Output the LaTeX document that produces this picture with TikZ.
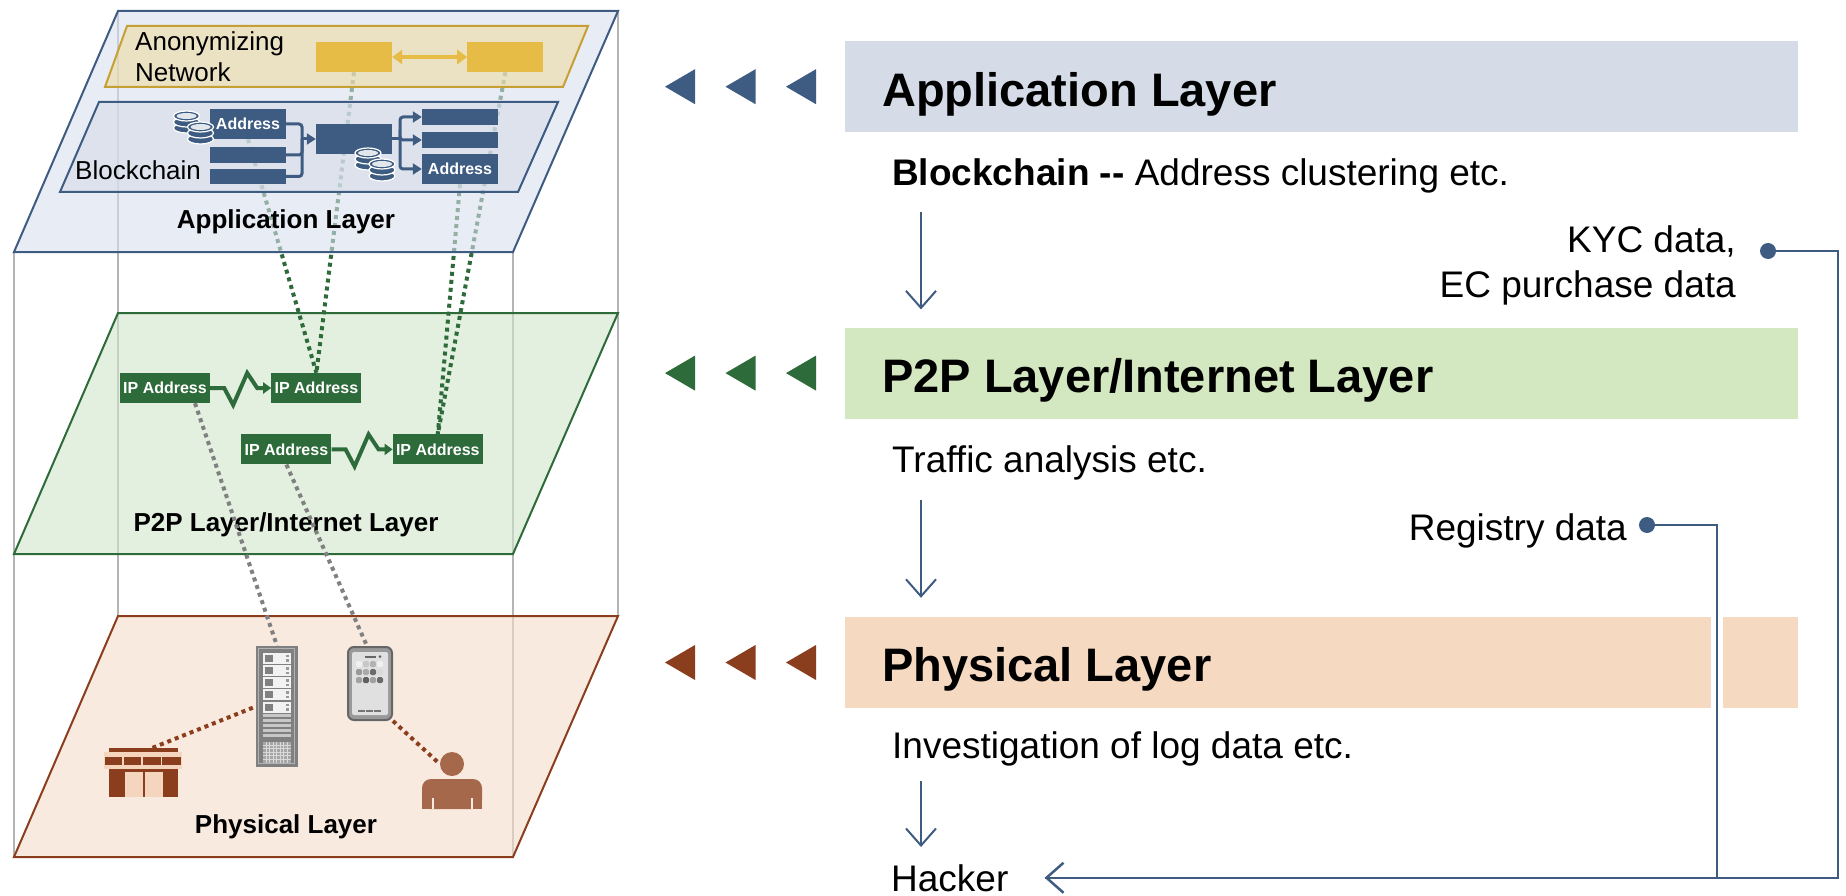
\documentclass[tikz,border=0pt]{standalone}
\usepackage{fontspec}
\setmainfont{Liberation Sans}
\usetikzlibrary{arrows.meta, positioning}

\definecolor{appline}{RGB}{62,92,130}
\definecolor{appfill}{RGB}{217,223,237}
\definecolor{appshade}{RGB}{213,220,232}
\definecolor{chainfill}{RGB}{214,221,232}
\definecolor{anonline}{RGB}{198,160,52}
\definecolor{anonfill}{RGB}{237,219,164}
\definecolor{anonyellow}{RGB}{230,188,70}
\definecolor{p2pline}{RGB}{46,107,58}
\definecolor{p2pfill}{RGB}{208,228,202}
\definecolor{p2pshade}{RGB}{211,232,192}
\definecolor{phyline}{RGB}{139,62,30}
\definecolor{phyfill}{RGB}{245,220,202}
\definecolor{physhade}{RGB}{245,217,193}
\definecolor{shoplight}{RGB}{245,213,190}
\definecolor{person}{RGB}{165,104,74}
\definecolor{edgegray}{RGB}{180,180,180}

\pgfdeclarelayer{back}
\pgfdeclarelayer{links}
\pgfsetlayers{back,links,main}

\begin{document}
\begin{tikzpicture}[x=1pt, y=-1pt,
        plane/.style      = {line width=2pt, fill opacity=0.6},
        boxedge/.style    = {edgegray, line width=1.5pt},
        planetitle/.style = {font=\bfseries\fontsize{26}{31}\selectfont, inner sep=0pt},
        plain/.style      = {font=\fontsize{26}{31}\selectfont, inner sep=0pt, align=left},
        addr/.style       = {fill=appline, text=white, font=\bfseries\fontsize{16}{18}\selectfont, minimum width=76pt, inner sep=0pt},
        ipbox/.style      = {fill=p2pline, text=white, font=\bfseries\fontsize{16}{18}\selectfont, minimum width=90pt, minimum height=30pt, inner sep=0pt},
        hopbox/.style     = {fill=anonyellow, minimum width=76pt, minimum height=30pt, inner sep=0pt},
        chainline/.style  = {appline, line width=3pt, rounded corners=3pt},
        zig/.style        = {p2pline, line width=4pt, -{Triangle[length=8pt,width=11pt]}},
        dotline/.style    = {line width=4pt, dash pattern=on 4pt off 4pt},
        band/.style       = {anchor=north west, minimum width=953pt, minimum height=91pt, inner sep=0pt},
        bandtext/.style   = {anchor=base west, font=\bfseries\fontsize{47}{56}\selectfont, inner sep=0pt},
        txt/.style        = {anchor=base west, font=\fontsize{37}{45}\selectfont, inner sep=0pt},
        flow/.style       = {appline, line width=2pt, -{Straight Barb[length=17pt,width=30pt]}},
        feed/.style       = {appline, line width=2.5pt},
        feeddot/.style    = {circle, fill=appline, minimum size=16pt, inner sep=0pt}]

    \useasboundingbox (0,0) rectangle (1846,896);

    % corners of the three stacked layers
    \foreach \lay/\h in {app/11, p2p/313, phy/616} {
        \coordinate (\lay-nw) at (118,\h);
        \coordinate (\lay-ne) at (618,\h);
        \coordinate (\lay-se) at (513,\h+241);
        \coordinate (\lay-sw) at (14,\h+241);
    }

    \begin{pgfonlayer}{back}
        % edges of the box holding the layers
        \foreach \c in {nw,ne,se,sw}
            \draw[boxedge] (app-\c) -- (phy-\c);
        \draw[plane, draw=phyline, fill=phyfill] (phy-nw) -- (phy-ne) -- (phy-se) -- (phy-sw) -- cycle;
        \draw[plane, draw=p2pline, fill=p2pfill] (p2p-nw) -- (p2p-ne) -- (p2p-se) -- (p2p-sw) -- cycle;
    \end{pgfonlayer}

    % physical layer: shop, server rack, phone and user
    \node[planetitle] (phytitle) at (286,827) {Physical Layer};

    \node[fill=black!50, minimum width=42pt, minimum height=121pt, inner sep=0pt] (server) at (277,706.5) {};
    \begin{scope}[shift={(server.north west)}]
        \draw[black!30, line width=1pt] (3,3) rectangle (39,118);
        \foreach \i in {0,...,4} {
            \fill[black!5] (7,7+12.2*\i) rectangle (35,18+12.2*\i);
            \fill[black!50] (9,9+12.2*\i) rectangle (17,16+12.2*\i);
            \fill[black!40] (30,9+12.2*\i) rectangle (33,11.5+12.2*\i);
            \fill[black!40] (30,13.5+12.2*\i) rectangle (33,16+12.2*\i);
        }
        \foreach \i in {0,...,4}
            \fill[black!22] (7,68+5*\i) rectangle (35,71.5+5*\i);
        \fill[black!35] (7,96) rectangle (35,117);
        \foreach \gx in {10.5,14,...,31.5}
            \draw[black!15, line width=0.8pt] (\gx,96) -- (\gx,117);
        \foreach \gy in {99.5,103,...,113.5}
            \draw[black!15, line width=0.8pt] (7,\gy) -- (35,\gy);
    \end{scope}

    \node[draw=black!60, fill=black!40, line width=2pt, rounded corners=6pt,
          minimum width=44pt, minimum height=73pt, inner sep=0pt] (phone) at (370,683.5) {};
    \begin{scope}[shift={(phone.north west)}]
        \fill[black!12, rounded corners=2pt] (5,6) rectangle (41,69);
        \fill[black!60] (18,9.5) rectangle (29,11.5);
        \fill[black!60] (33,10.5) circle (1.5);
        \foreach \s [count=\i from 0] in {6,22,30,6,40,33,58,15,37,62,37,58} {
            \pgfmathsetmacro\col{mod(\i,4)}
            \pgfmathsetmacro\row{floor(\i/4)}
            \fill[black!\s, rounded corners=1.5pt] (9+7*\col,15+8*\row) rectangle ++(6,6);
        }
        \foreach \dx in {11,19,27}
            \fill[black!55] (\dx,64) rectangle ++(7,2);
    \end{scope}

    \node[minimum width=78pt, minimum height=49pt, inner sep=0pt] (shop) at (143.5,772.5) {};
    \begin{scope}[shift={(shop.north west)}]
        \fill[phyline] (5,0) rectangle (74,5);
        \fill[shoplight] (0,4) rectangle (78,21);
        \foreach \px/\pw in {1/17, 20/17, 39/18, 58/19}
            \fill[phyline] (\px,9) rectangle ++(\pw,8);
        \fill[phyline] (5,21) rectangle (74,49);
        \fill[shoplight] (21,24) rectangle (39,49);
        \fill[shoplight] (41,24) rectangle (59,49);
    \end{scope}

    \node[circle, fill=person, minimum size=24pt, inner sep=0pt] (user) at (452,764) {};
    \fill[person, rounded corners=9pt] (422,779) rectangle (482,809);
    \fill[person] (422,795) rectangle (482,809);
    \foreach \ax in {433,472}
        \draw[phyfill!60!white, line width=2pt] (\ax,798) -- (\ax,809);

    \draw[dotline, phyline] ([xshift=9pt]shop.north) -- (server.west);
    \draw[dotline, phyline] (phone.south east) -- (user.west);

    % P2P layer: IP addresses talking to each other
    \node[planetitle] (p2ptitle) at (286,525) {P2P Layer/Internet Layer};
    \node[ipbox] (ipa) at (165,388) {IP Address};
    \node[ipbox, right=61pt of ipa] (ipb) {IP Address};
    \node[ipbox, below right=31pt and 31pt of ipa] (ipc) {IP Address};
    \node[ipbox, right=61pt of ipc] (ipd) {IP Address};

    \foreach \s/\t in {ipa/ipb, ipc/ipd}
        \draw[zig] (\s.east) -- ++(14,0) -- ++(9,17) -- ++(14,-32) -- ++(10,15) -- (\t.west);

    \draw[dotline, black!50] ([xshift=30pt]ipa.south) -- (server.north);
    \draw[dotline, black!50] (ipc.south) -- ([xshift=-3pt]phone.north);

    % application layer with the anonymizing network and the blockchain
    \draw[plane, draw=appline, fill=appfill] (app-nw) -- (app-ne) -- (app-se) -- (app-sw) -- cycle;
    \draw[plane, draw=anonline, fill=anonfill] (127,26) -- (588,26) -- (563,87) -- (105,87) -- cycle;
    \draw[plane, draw=appline, fill=chainfill] (99,102) -- (558,102) -- (518,192) -- (60,192) -- cycle;

    \node[plain, anchor=west] (anontxt) at (135,57) {Anonymizing\\Network};
    \node[plain, anchor=west] (chaintxt) at (75,170) {Blockchain};
    \node[planetitle] (apptitle) at (286,222) {Application Layer};

    \node[hopbox] (hop1) at (354,57) {};
    \node[hopbox, right=75pt of hop1] (hop2) {};
    \draw[anonyellow, line width=4pt, {Triangle[length=10pt,width=14pt]}-{Triangle[length=10pt,width=14pt]}] (hop1) -- (hop2);

    \node[addr, minimum height=30pt] (in1) at (248,124) {Address};
    \node[addr, minimum height=16pt] (in2) at (248,155) {};
    \node[addr, minimum height=15pt] (in3) at (248,176.5) {};
    \node[addr, minimum height=30pt] (tx) at (354,139) {};
    \node[addr, minimum height=16pt] (out1) at (460,117) {};
    \node[addr, minimum height=16pt] (out2) at (460,140) {};
    \node[addr, minimum height=30pt] (out3) at (460,169) {Address};

    % inputs merge into the transaction, outputs fan out of it
    \coordinate (merge) at (302,139);
    \coordinate (split) at (400,139);
    \foreach \i in {1,2,3}
        \draw[chainline] (in\i.east) -| (merge);
    \draw[chainline, -{Triangle[length=9pt,width=11pt]}] (merge) -- (tx.west);
    \draw[chainline] (tx.east) -- (split);
    \foreach \i in {1,2,3}
        \draw[chainline, -{Triangle[length=9pt,width=11pt]}] (split) |- (out\i.west);

    % coin stacks
    \foreach \cx/\cy in {186.5/116, 200.5/127, 368/153, 382/164} {
        \foreach \k in {12,6,0}
            \draw[white, fill=appline, line width=1.2pt] (\cx,\cy+\k) ellipse [x radius=13, y radius=5];
        \fill[white!85!appline] (\cx,\cy) ellipse [x radius=10, y radius=3];
    }

    % links between the layers
    \begin{pgfonlayer}{links}
        \draw[dotline, p2pline] (in1.south) -- (ipb.north);
        \draw[dotline, p2pline] (hop1.south) -- (ipb.north);
        \draw[dotline, p2pline] (out3.south) -- (ipd.north);
        \draw[dotline, p2pline] (hop2.south) -- (ipd.north);
    \end{pgfonlayer}

    % right hand side, one band per layer
    \node[band, fill=appshade] (appband) at (845,41) {};
    \node[band, fill=p2pshade, below=195pt of appband] (p2pband) {};
    \node[band, fill=physhade, below=198pt of p2pband] (phyband) {};

    \foreach \b/\col in {appband/appline, p2pband/p2pline, phyband/phyline}
        \foreach \i in {0,1,2}
            \fill[\col] ([xshift=-180pt+60.5pt*\i]\b.west) -- ++(30,-17.5) -- ++(0,35) -- cycle;

    \node[bandtext] (apphead) at ([xshift=37pt, yshift=-19.5pt]appband.west) {Application Layer};
    \node[bandtext] (p2phead) at ([xshift=37pt, yshift=-19.5pt]p2pband.west) {P2P Layer/Internet Layer};
    \node[bandtext] (phyhead) at ([xshift=37pt, yshift=-18.5pt]phyband.west) {Physical Layer};

    \node[txt] (blk) at ([xshift=47pt, yshift=-53pt]appband.south west) {\textbf{Blockchain -{}-} Address clustering etc.};
    \node[txt] (traffic) at ([xshift=47pt, yshift=-54pt]p2pband.south west) {Traffic analysis etc.};
    \node[txt] (invest) at ([xshift=47pt, yshift=-50pt]phyband.south west) {Investigation of log data etc.};
    \node[txt] (hacker) at (891,891) {Hacker};

    \draw[flow] ([xshift=29pt, yshift=-27pt]blk.base west) -- ([xshift=76pt, yshift=18pt]p2pband.north west);
    \draw[flow] ([xshift=29pt, yshift=-27pt]traffic.base west) -- ([xshift=76pt, yshift=19pt]phyband.north west);
    \draw[flow] ([xshift=29pt, yshift=-23pt]invest.base west) -- ([xshift=30pt, yshift=17pt]hacker.north west);

    % outside data feeding the hacker
    \node[txt, anchor=north east, align=right] (kyc) at (1736,225) {KYC data,\\EC purchase data};
    \node[txt, anchor=base east] (registry) at (1627,540) {Registry data};

    \draw[feed, preaction={draw=white, line width=12pt}] (1647,525) coordinate (regstart) -- ++(70,0) |- ([xshift=36pt]hacker.east);
    \draw[feed, -{Straight Barb[length=17pt,width=30pt]}] (1768,251) coordinate (kycstart) -- ++(70,0) |- ([xshift=36pt]hacker.east);
    \node[feeddot] (kycdot) at (kycstart) {};
    \node[feeddot] (regdot) at (regstart) {};

\end{tikzpicture}
\end{document}
